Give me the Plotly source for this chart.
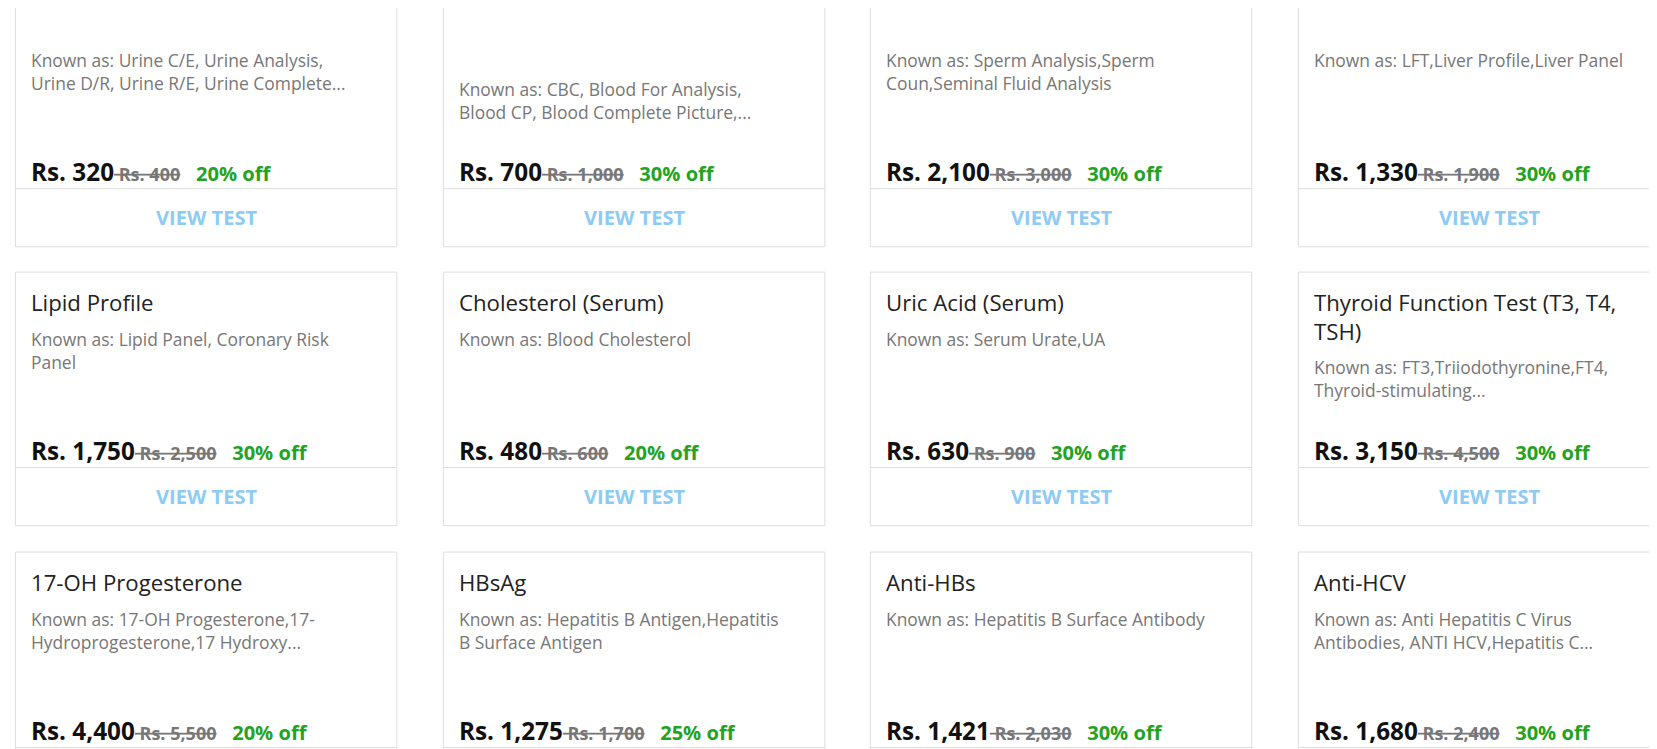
import plotly.graph_objects as go

# page drawn in the screenshot's own pixel grid (1568 x 709)
W, H = 1568, 709
S = 1657 / W

titles = ["Urine Test", "Complete Blood Count (CBC)<br>(Blood Test)", "Semen Analysis", "Liver Function Test (LFT)",
          "Lipid Profile", "Cholesterol (Serum)", "Uric Acid (Serum)", "Thyroid Function Test (T3, T4,<br>TSH)",
          "17-OH Progesterone", "HBsAg", "Anti-HBs", "Anti-HCV"]
known_as = [
    "Known as: Urine C/E, Urine Analysis,<br>Urine D/R, Urine R/E, Urine Complete...",
    "Known as: CBC, Blood For Analysis,<br>Blood CP, Blood Complete Picture,...",
    "Known as: Sperm Analysis,Sperm<br>Coun,Seminal Fluid Analysis",
    "Known as: LFT,Liver Profile,Liver Panel",
    "Known as: Lipid Panel, Coronary Risk<br>Panel",
    "Known as: Blood Cholesterol",
    "Known as: Serum Urate,UA",
    "Known as: FT3,Triiodothyronine,FT4,<br>Thyroid-stimulating...",
    "Known as: 17-OH Progesterone,17-<br>Hydroprogesterone,17 Hydroxy...",
    "Known as: Hepatitis B Antigen,Hepatitis<br>B Surface Antigen",
    "Known as: Hepatitis B Surface Antibody",
    "Known as: Anti Hepatitis C Virus<br>Antibodies, ANTI HCV,Hepatitis C...",
]
prices = ["320", "700", "2,100", "1,330", "1,750", "480", "630", "3,150", "4,400", "1,275", "1,421", "1,680"]
orig_prices = ["400", "1,000", "3,000", "1,900", "2,500", "600", "900", "4,500", "5,500", "1,700", "2,030", "2,400"]
discounts = [20, 30, 30, 30, 30, 20, 30, 30, 20, 25, 30, 30]

col_left = [7, 412, 816, 1221]
row_top = [-14, 250, 515]
card_w, card_h = 361, 240

fig = go.Figure()
shapes, anns = [], []
for i, t in enumerate(titles):
    x0 = col_left[i % 4]
    y0 = row_top[i // 4]
    y1 = y0 + card_h
    shapes.append(dict(type="rect", x0=x0, x1=x0 + card_w, y0=y0, y1=y1, layer="below",
                       line=dict(color="#dddddd", width=1), fillcolor="white"))
    shapes.append(dict(type="line", x0=x0, x1=x0 + card_w, y0=y1 - 55, y1=y1 - 55,
                       line=dict(color="#dddddd", width=1)))
    extra = 27 if "<br>" in t else 0
    anns.append(dict(x=x0 + 13, y=y0 + 12, text=t, xanchor="left", yanchor="top", align="left",
                     font=dict(size=21 * S, color="#222222")))
    anns.append(dict(x=x0 + 13, y=y0 + 50 + extra, text=known_as[i], xanchor="left", yanchor="top",
                     align="left", font=dict(size=16.5 * S, color="#777777")))
    price_txt = (f"<b>Rs. {prices[i]}</b>"
                 f"<span style='font-size:{17*S:.1f}px;color:#777777;text-decoration:line-through'>"
                 f"<b> Rs. {orig_prices[i]}</b></span>"
                 f"<span style='font-size:{19*S:.1f}px;color:#22a322'><b>\u00a0\u00a0\u00a0{discounts[i]}% off</b></span>")
    anns.append(dict(x=x0 + 13, y=y1 - 71, text=price_txt, xanchor="left", yanchor="middle",
                     font=dict(size=23 * S, color="#111111")))
    anns.append(dict(x=x0 + card_w / 2, y=y1 - 28, text="<b>VIEW TEST</b>", xanchor="center",
                     yanchor="middle", font=dict(size=19 * S, color="#8ccbf5")))
for a in anns:
    a["showarrow"] = False

fig.update_layout(
    width=1657, height=749, margin=dict(l=0, r=0, t=0, b=0),
    paper_bgcolor="white", plot_bgcolor="white",
    font=dict(family="Open Sans"),
    shapes=shapes, annotations=anns, showlegend=False,
    xaxis=dict(range=[0, W], visible=False, fixedrange=True),
    yaxis=dict(range=[H, 0], visible=False, fixedrange=True),
)
fig.write_html("out.html")
